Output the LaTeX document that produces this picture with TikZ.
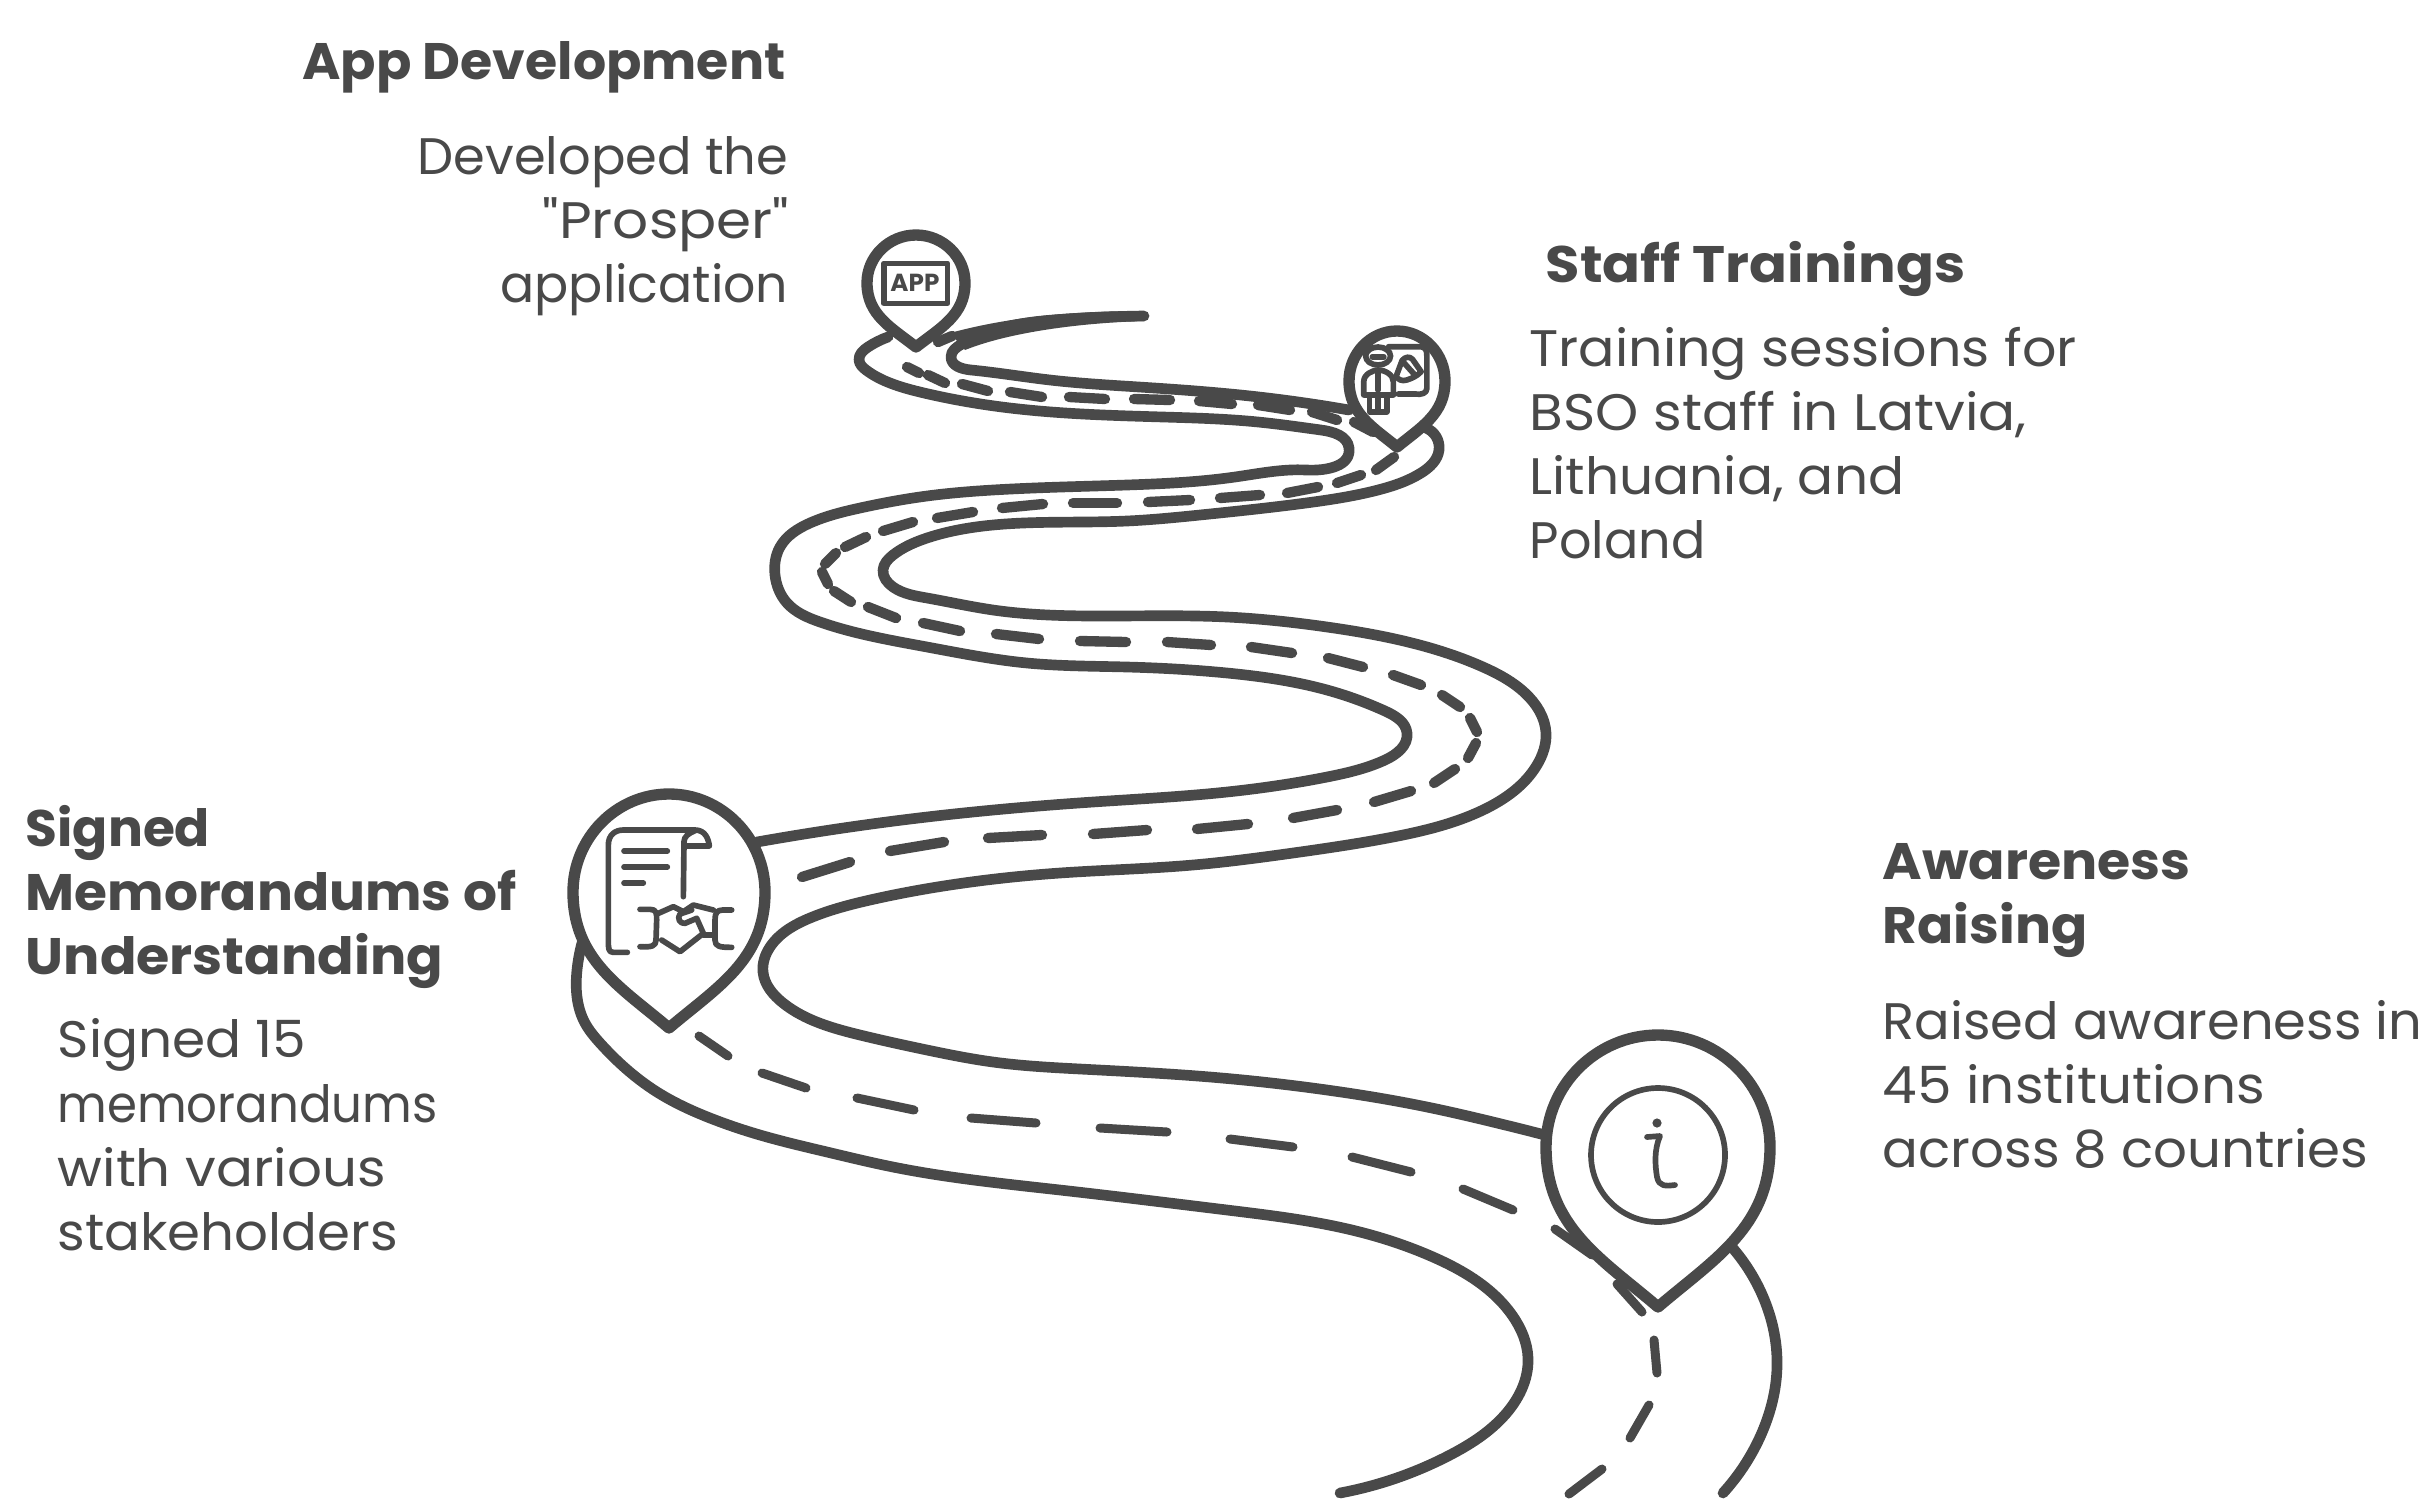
\documentclass[tikz,border=0pt]{standalone}
\usepackage{fontspec}
\usetikzlibrary{hobby}
\setmainfont{Poppins}[Ligatures=TeXOff]
\definecolor{ink}{HTML}{494949}
\tikzset{
  road/.style={draw=ink,line width=3.2pt,line cap=round,line join=round,use Hobby shortcut},
  roaddash/.style={draw=ink,line width=2.7pt,line cap=round},
  thickdash/.style={draw=ink,line width=3.1pt,line cap=round},
  pinshape/.style={draw=ink,fill=white,line width=3.4pt,line join=round},
  icon/.style={draw=ink,line width=1.7pt,line cap=round,line join=round},
  titletext/.style={inner sep=0pt,text=ink,font=\fontsize{15.4}{19.2}\selectfont\bfseries},
  bodytext/.style={inner sep=0pt,text=ink,font=\fontsize{15.4}{19.2}\selectfont},
  widthfit/.style={transform shape,xscale=#1},
}
% cx, top, mid, tip, half width
\newcommand\mappin[5]{%
  \path[pinshape] (#1,#4)
    .. controls ({#1-.5*#5},{#4-.3*(#4-#3)}) and ({#1-#5},{#3+.5*(#4-#3)}) .. ({#1-#5},#3)
    .. controls ({#1-#5},{#3-.55*(#3-#2)}) and ({#1-.55*#5},#2) .. (#1,#2)
    .. controls ({#1+.55*#5},#2) and ({#1+#5},{#3-.55*(#3-#2)}) .. ({#1+#5},#3)
    .. controls ({#1+#5},{#3+.5*(#4-#3)}) and ({#1+.5*#5},{#4-.3*(#4-#3)}) .. (#1,#4) -- cycle;}
\begin{document}
\begin{tikzpicture}[x=0.3pt,y=-0.3pt]
\fill[white] (0,0) rectangle (2431,1503);
\useasboundingbox (0,0) rectangle (2431,1503);
% road edges
\fill[ink] (950,333) .. controls (1020,314) and (1090,311) .. (1144,311) -- (1144,321) .. controls (1080,323) and (1010,332) .. (965,350) -- cycle;
\draw[road] (1144,316) .. (1067,319) .. (995,330) .. (962,344) .. (951,357) .. (971,370) .. (1050,380) .. (1139,387) .. (1250,396) .. (1349,410);
\draw[road] (1426,428) .. (1439,450) .. (1421,473) .. (1378,490) .. (1306,503) .. (1200,515) .. (1127,521) .. (993,525) .. (927,538) .. (893,555) .. (883,570) .. (893,587) .. (927,598) .. (993,610) .. (1093,616) .. (1227,617) .. (1327,627) .. (1427,647) .. (1483,667) .. (1525,693) .. (1546,733) .. (1537,765) .. (1483,810) .. (1393,837) .. (1293,853) .. (1193,865) .. (1060,873) .. (950,885) .. (870,900) .. (810,918) .. (770,947) .. (763,972) .. (783,1003) .. (860,1035) .. (927,1050) .. (993,1062) .. (1080,1069) .. (1210,1077) .. (1327,1090) .. (1427,1107) .. (1493,1122) .. (1545,1135);
\draw[road] (1730,1245) .. (1760,1290) .. (1777,1367) .. (1760,1437) .. (1723,1493);
\draw[road] (888,337) .. (868,347) .. (859,360) .. (866,370) .. (890,383) .. (924,393) .. (1010,408) .. (1163,417) .. (1258,422) .. (1321,430) .. (1349,448) .. (1306,470) .. (1235,477) .. (1127,485) .. (993,490) .. (927,496) .. (860,508) .. (810,523) .. (780,547) .. (775,575) .. (787,603) .. (820,622) .. (927,647) .. (1027,663) .. (1127,667) .. (1227,673) .. (1327,690) .. (1385,711) .. (1407,733) .. (1385,760) .. (1327,777) .. (1227,792) .. (1093,802) .. (927,817) .. (757,842);
\draw[road] (582,943) .. (577,970) .. (577,997) .. (585,1023) .. (600,1043) .. (657,1092) .. (710,1118) .. (760,1135) .. (827,1152) .. (893,1167) .. (1060,1190) .. (1227,1210) .. (1360,1232) .. (1433,1257) .. (1512,1315) .. (1528,1358) .. (1503,1417) .. (1450,1455) .. (1340,1493);
% centre dashes
\foreach \xa/\ya/\xb/\yb in {938/342/952/336,907/367/919/373,928/375/945/383,962/384/988/391,1010/392/1042/397,1069/397/1105/399,1134/399/1170/400,1199/401/1232/404,1258/405/1290/410,1312/412/1337/420,1354/422/1373/432,1394/457/1376/470,1361/475/1337/483,1318/487/1287/493,1260/495/1220/498,1190/500/1148/502,1117/503/1073/503,1043/504/1002/508,973/512/937/518,913/522/883/531,866/537/845/547,836/553/825/564,822/572/828/584,834/591/851/602,868/607/896/618,923/623/960/631,996/634/1039/639,1080/641/1126/642,1167/642/1211/645,1251/647/1292/653,1328/658/1363/667,1393/675/1421/685,1442/695/1460/707,1470/718/1477/732,1476/743/1468/758,1455/769/1434/783,1411/791/1374/802,1337/810/1293/818,1248/824/1197/829,1147/830/1093/834,1042/835/988/838,944/842/890/851,850/862/802/877}
  \draw[thickdash] (\xa,\ya) -- (\xb,\yb);
\foreach \xa/\ya/\xb/\yb in {699/1036/728/1056,762/1073/806/1088,857/1098/914/1110,971/1118/1036/1123,1100/1128/1167/1132,1230/1139/1293/1147,1352/1157/1411/1172,1463/1189/1513/1210,1555/1229/1592/1255,1617/1284/1642/1312,1654/1340/1657/1373,1649/1405/1630/1438,1602/1469/1569/1494}
  \draw[roaddash] (\xa,\ya) -- (\xb,\yb);
% pins
\mappin{916}{235}{283}{347}{49}
\mappin{1397}{331}{381}{447}{48}
\mappin{669}{794}{892}{1028}{96}
\mappin{1658}{1035}{1147}{1307}{112}
% pin 1 icon
\begin{scope}[shift={(780,200)},x=0.14354pt,y=-0.1pt]
\draw[icon] (217,190) rectangle (350,310);
\node[inner sep=0pt,text=ink,font=\fontsize{7.4}{8}\selectfont\bfseries] (apptag) at (282,250) {APP};
% pin 2 icon
\draw[icon] (1250,468) circle[x radius=26,y radius=27];
\draw[icon] (1238,470) -- (1262,470);
\draw[icon] (1220,585) -- (1220,545) .. controls (1220,522) and (1240,510) .. (1250,510) .. controls (1265,510) and (1282,525) .. (1282,545) -- (1282,585) -- cycle;
\draw[icon] (1250,515) -- (1250,570) (1232,590) -- (1232,635) -- (1268,635) -- (1268,590) (1250,590) -- (1250,635);
\draw[icon] (1272,440) -- (1335,440) .. controls (1350,440) and (1352,450) .. (1352,470) -- (1352,565) .. controls (1352,580) and (1340,585) .. (1328,582) -- (1292,582);
\draw[icon] (1288,528) -- (1300,482) .. controls (1306,470) and (1316,468) .. (1322,478) -- (1340,515) .. controls (1330,530) and (1320,535) .. (1310,540) .. controls (1300,545) and (1290,538) .. (1288,528) -- cycle;
\draw[icon] (1302,485) -- (1325,522);
\end{scope}
% pin 3 icon
\begin{scope}[shift={(540,770)},x=0.1pt,y=-0.1pt]
\draw[icon] (262,547) -- (220,547) .. controls (205,547) and (205,535) .. (205,510) -- (205,225) .. controls (205,195) and (225,180) .. (250,180) -- (465,180) .. controls (495,180) and (505,205) .. (508,228) -- (432,228);
\draw[icon] (430,380) -- (432,215) .. controls (432,200) and (445,190) .. (465,182);
\draw[icon] (252,243) -- (382,243) (252,291) -- (382,291) (252,339) -- (310,339);
\draw[icon] (300,418) -- (330,418) .. controls (350,418) and (350,430) .. (350,450) -- (348,510) .. controls (348,528) and (335,532) .. (300,530);
\draw[icon] (575,420) -- (548,420) .. controls (530,420) and (525,430) .. (525,450) -- (525,510) .. controls (525,530) and (540,532) .. (575,532);
\draw[icon] (355,430) -- (400,410) -- (430,425) -- (460,405) -- (520,420);
\draw[icon] (455,420) -- (420,432) .. controls (410,445) and (420,462) .. (435,460) -- (470,445) -- (490,490) -- (420,545) -- (365,510);
\draw[icon] (490,495) -- (525,495);
\end{scope}
% pin 4 icon
\draw[icon] (1658,1155) circle[radius=67];
\fill[ink] (1657,1123) circle[radius=4.6];
\draw[icon] (1647,1137) -- (1660,1136) .. controls (1654,1150) and (1655,1165) .. (1657,1177) .. controls (1659,1187) and (1666,1186) .. (1675,1185);
% texts
\node[titletext,widthfit=1.016,anchor=base east] (t1) at (786,79) {App Development};
\node[bodytext,widthfit=.995,anchor=base east] (b1a) at (789,174) {Developed the};
\node[bodytext,widthfit=1.1,anchor=base east] (b1b) at (790,238) {"Prosper"};
\node[bodytext,widthfit=.985,anchor=base east] (b1c) at (789,302) {application};
\node[titletext,widthfit=1.089,anchor=base west] (t2) at (1545,282) {Staff Trainings};
\node[bodytext,widthfit=1.05,anchor=base west] (b2a) at (1529,366) {Training sessions for};
\node[bodytext,widthfit=1.07,anchor=base west] (b2b) at (1529,430) {BSO staff in Latvia,};
\node[bodytext,widthfit=1.04,anchor=base west] (b2c) at (1529,494) {Lithuania, and};
\node[bodytext,widthfit=.99,anchor=base west] (b2d) at (1529,558) {Poland};
\node[titletext,widthfit=1.01,anchor=base west] (t3a) at (25,846) {Signed};
\node[titletext,widthfit=1.04,anchor=base west] (t3b) at (25,910) {Memorandums of};
\node[titletext,widthfit=1.05,anchor=base west] (t3c) at (25,974) {Understanding};
\node[bodytext,widthfit=1.04,anchor=base west] (b3a) at (57,1057) {Signed 15};
\node[bodytext,widthfit=.94,anchor=base west] (b3b) at (57,1122) {memorandums};
\node[bodytext,widthfit=1.066,anchor=base west] (b3c) at (57,1186) {with various};
\node[bodytext,widthfit=1.033,anchor=base west] (b3d) at (57,1250) {stakeholders};
\node[titletext,widthfit=1.047,anchor=base west] (t4a) at (1882,879) {Awareness};
\node[titletext,widthfit=1.04,anchor=base west] (t4b) at (1882,943) {Raising};
\node[bodytext,widthfit=1.027,anchor=base west] (b4a) at (1882,1039) {Raised awareness in};
\node[bodytext,widthfit=1.07,anchor=base west] (b4b) at (1882,1103) {45 institutions};
\node[bodytext,widthfit=1.033,anchor=base west] (b4c) at (1882,1167) {across 8 countries};
\end{tikzpicture}
\end{document}
